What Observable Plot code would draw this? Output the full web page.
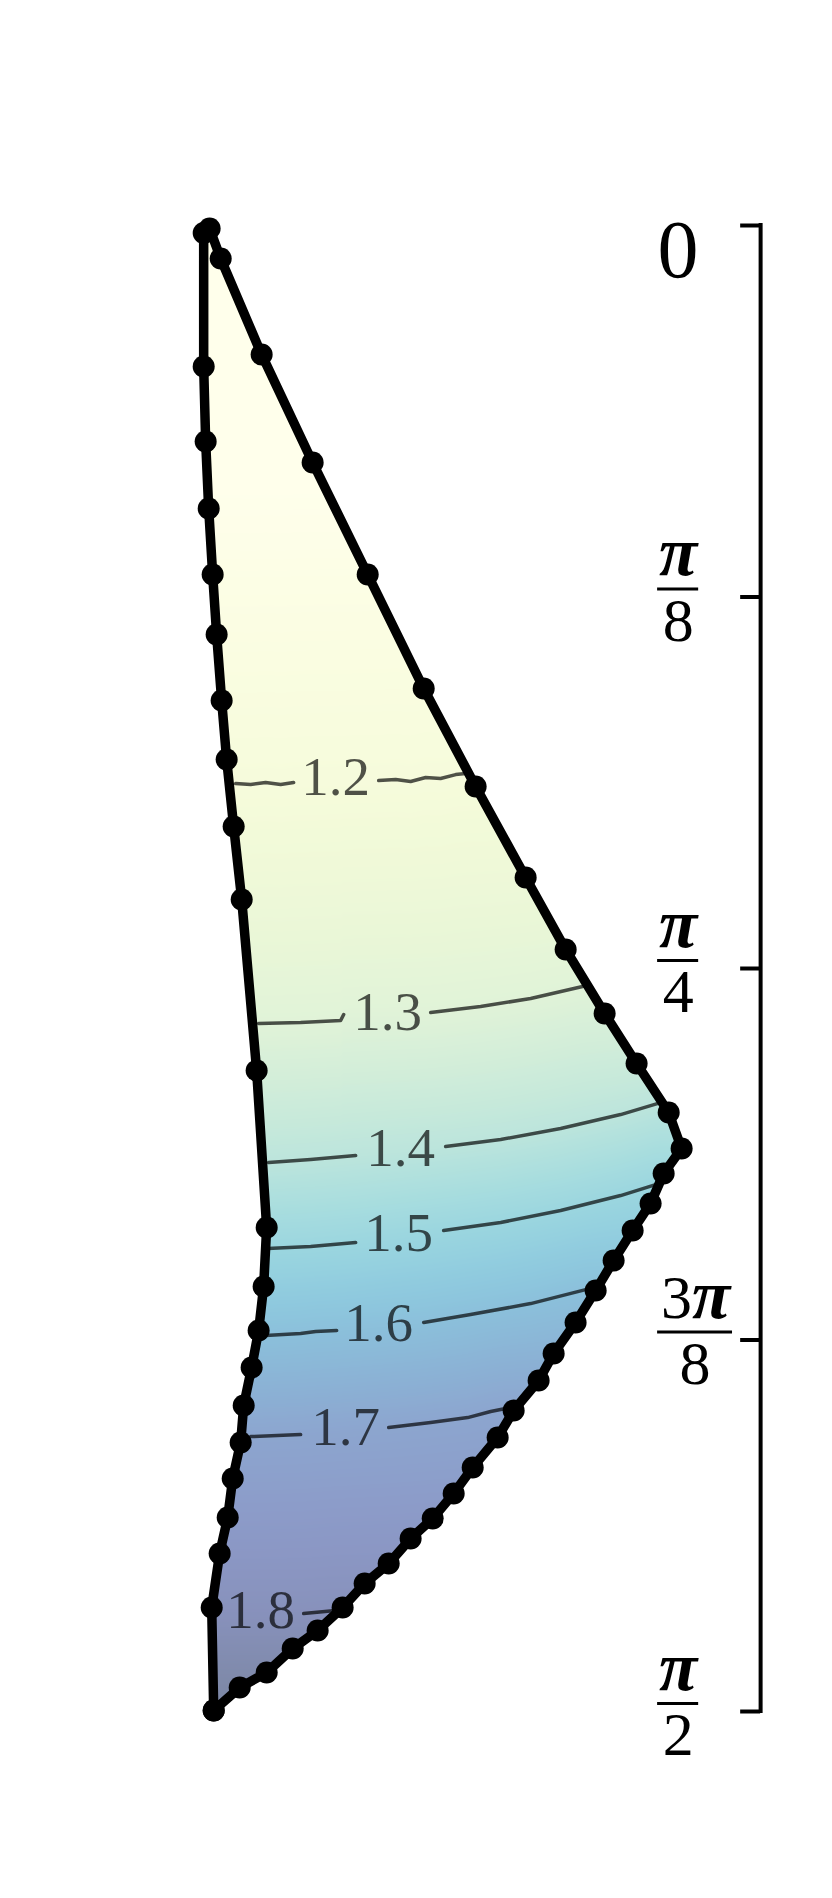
<!DOCTYPE html>
<html><head><meta charset="utf-8">
<script src="https://cdn.jsdelivr.net/npm/d3@7"></script>
<script src="https://cdn.jsdelivr.net/npm/@observablehq/plot@0.6"></script>
<style>html,body{margin:0;padding:0;background:#fff}svg{display:block}</style>
</head><body><div id="chart"></div>
<script>
// Boundary of the region (x: arbitrary angular units, y: angle in radians), top to bottom
const leftX = [0, 0, 0.0021, 0.0053, 0.0095, 0.0137, 0.0190, 0.0243, 0.0317, 0.0402, 0.0560, 0.0666, 0.0634, 0.0581, 0.0507, 0.0423, 0.0391, 0.0307, 0.0254, 0.0169, 0.0085, 0.0106];
const leftY = [0.0080, 0.1491, 0.2283, 0.2992, 0.3689, 0.4324, 0.5021, 0.5645, 0.6353, 0.7125, 0.8932, 1.0592, 1.1216, 1.1681, 1.2072, 1.2474, 1.2865, 1.3245, 1.3658, 1.4038, 1.4609, 1.5698];
const rightX = [0.0063, 0.0180, 0.0613, 0.1152, 0.1734, 0.2326, 0.2875, 0.3404, 0.3827, 0.4239, 0.4577, 0.4916, 0.5053, 0.4863, 0.4725, 0.4535, 0.4334, 0.4144, 0.3932, 0.3700, 0.3541, 0.3277, 0.3108, 0.2844, 0.2643, 0.2421, 0.2188, 0.1956, 0.1702, 0.1469, 0.1205, 0.0941, 0.0666, 0.0381, 0.0106];
const rightY = [0.0032, 0.0349, 0.1364, 0.2505, 0.3689, 0.4894, 0.5930, 0.6892, 0.7653, 0.8330, 0.8858, 0.9376, 0.9757, 1.0021, 1.0338, 1.0624, 1.0941, 1.1258, 1.1596, 1.1924, 1.2210, 1.2527, 1.2812, 1.3129, 1.3404, 1.3668, 1.3880, 1.4144, 1.4355, 1.4609, 1.4852, 1.5043, 1.5296, 1.5455, 1.5698];

// Contour lines (segments broken around their labels)
const contour12 = [
  [[0.0338,0.5899],[0.0497,0.5909],[0.0655,0.5888],[0.0814,0.5909],[0.0951,0.5888]],
  [[0.1850,0.5867],[0.2030,0.5856],[0.2188,0.5877],[0.2347,0.5835],[0.2505,0.5846],[0.2664,0.5804],[0.2770,0.5793]]
];
const contour13 = [
  [[0.0581,0.8436],[0.1025,0.8425],[0.1448,0.8404],[0.1480,0.8341]],
  [[0.2400,0.8319],[0.2928,0.8256],[0.3457,0.8171],[0.4006,0.8045]]
];
const contour14 = [
  [[0.0687,0.9905],[0.1131,0.9873],[0.1607,0.9831]],
  [[0.2558,0.9736],[0.3140,0.9662],[0.3774,0.9546],[0.4408,0.9398],[0.4831,0.9271]]
];
const contour15 = [
  [[0.0677,1.0814],[0.1131,1.0793],[0.1607,1.0751]],
  [[0.2537,1.0624],[0.3140,1.0539],[0.3774,1.0412],[0.4408,1.0254],[0.4778,1.0138]]
];
const contour16 = [
  [[0.0655,1.1734],[0.1025,1.1713],[0.1184,1.1692],[0.1406,1.1681]],
  [[0.2326,1.1596],[0.2822,1.1512],[0.3457,1.1396],[0.4038,1.1248]]
];
const contour17 = [
  [[0.0497,1.2802],[0.1025,1.2781]],
  [[0.1956,1.2706],[0.2400,1.2654],[0.2791,1.2601],[0.3034,1.2537],[0.3192,1.2506]]
];
const contour18 = [
  [[0.1057,1.4673],[0.1395,1.4641]]
];
const contourLevels = [1.2, 1.3, 1.4, 1.5, 1.6, 1.7, 1.8];
const contourLabels = ["1.2", "1.3", "1.4", "1.5", "1.6", "1.7", "1.8"];
const labelX = [0.1395, 0.1945, 0.2082, 0.2061, 0.1850, 0.1501, 0.0603];
const labelY = [0.5835, 0.8319, 0.9757, 1.0656, 1.1607, 1.2706, 1.4641];
const fieldTop = 1.05, fieldBottom = 1.88;

// Right-hand angle axis
const tickValues = [0, Math.PI / 8, Math.PI / 4, 3 * Math.PI / 8, Math.PI / 2];
const tickCoef = ["", "", "", "3", ""];
const tickDenom = ["", "8", "4", "8", "2"];
const zeroLabel = "0";
const axisX = 0.5888, tickInnerX = 0.5677, labelLeftX = 0.4799;

const contours = [contour12, contour13, contour14, contour15, contour16, contour17, contour18];
const polygon = leftX.map((x, i) => [x, leftY[i]]).concat(rightX.map((x, i) => [x, rightY[i]]).reverse());
const outline = polygon.concat([polygon[0]]).map(([x, y]) => ({x, y}));
const dots = polygon.map(([x, y]) => ({x, y}));
const contourRows = contours.flatMap((segs, i) => segs.flatMap((seg, j) => seg.map(([x, y]) => ({x, y, key: i + "-" + j}))));
const labelRows = contourLabels.map((t, i) => ({t, x: labelX[i], y: labelY[i]}));

const contourPts = contours.map(segs => segs.flat().slice().sort((a, b) => a[0] - b[0]));
const bis = d3.bisector(p => p[0]).right;
function contourYAt(pts, x) {
  if (x <= pts[0][0]) return pts[0][1];
  if (x >= pts[pts.length - 1][0]) return pts[pts.length - 1][1];
  const i = bis(pts, x);
  const a = pts[i - 1], b = pts[i];
  return a[1] + (b[1] - a[1]) * (x - a[0]) / (b[0] - a[0]);
}
const vs = [fieldTop, ...contourLevels, fieldBottom];
function field(x, y) {
  if (!d3.polygonContains(polygon, [x, y])) return NaN;
  const ys = [0, ...contourPts.map(p => contourYAt(p, x)), Math.PI / 2];
  for (let i = 1; i < ys.length; i++) {
    if (y <= ys[i]) {
      const t = (y - ys[i - 1]) / (ys[i] - ys[i - 1]);
      return vs[i - 1] + t * (vs[i] - vs[i - 1]);
    }
  }
  return fieldBottom;
}

const fracRows = tickValues.map((v, i) => {
  const half = tickCoef[i] ? 0.0396 : 0.0217;
  return {v, coef: tickCoef[i], den: tickDenom[i], x1: labelLeftX, x2: labelLeftX + 2 * half, cx: labelLeftX + half};
}).filter(d => d.den);

const serif = "'Liberation Serif', 'Times New Roman', Times, serif";

const chart = Plot.plot({
  width: 832, height: 1898,
  marginLeft: 14, marginRight: 14, marginTop: 225, marginBottom: 187,
  x: {domain: [-0.2, 0.65], axis: null},
  y: {domain: [0, Math.PI / 2], reverse: true, axis: null},
  color: {type: "linear", scheme: "YlGnBu", domain: [1.12, 1.86], clamp: true},
  style: {fontFamily: serif, background: "white"},
  marks: [
    Plot.raster({fill: field, x1: -0.01, x2: 0.52, y1: 0, y2: Math.PI / 2, pixelSize: 1, fillOpacity: 0.52}),
    Plot.line(contourRows, {x: "x", y: "y", z: "key", stroke: "black", strokeOpacity: 0.68, strokeWidth: 3.5}),
    Plot.text(labelRows, {x: "x", y: "y", text: "t", fontSize: 55, fontFamily: serif, fill: "black", fillOpacity: 0.68}),
    Plot.line(outline, {x: "x", y: "y", stroke: "black", strokeWidth: 9.5, strokeLinejoin: "round"}),
    Plot.dot(dots, {x: "x", y: "y", r: 11, fill: "black"}),
    Plot.ruleX([axisX], {y1: 0, y2: Math.PI / 2, stroke: "black", strokeWidth: 4, strokeLinecap: "square"}),
    Plot.ruleY(tickValues, {y: d => d, x1: tickInnerX, x2: axisX, stroke: "black", strokeWidth: 4}),
    Plot.text([zeroLabel], {x: labelLeftX, y: tickValues[0], text: d => d, textAnchor: "start", dy: 25, fontSize: 82, fontFamily: serif, fill: "black"}),
    Plot.ruleY(fracRows, {y: "v", x1: "x1", x2: "x2", dy: -8, stroke: "black", strokeWidth: 3}),
    Plot.text(fracRows.filter(d => !d.coef), {x: "cx", y: "v", text: () => "π", fontStyle: "italic", fontWeight: "bold", dy: -44, fontSize: 70, fontFamily: serif, fill: "black"}),
    Plot.text(fracRows.filter(d => d.coef), {x: "cx", y: "v", text: "coef", textAnchor: "end", dx: -3, dy: -42, fontSize: 62, fontFamily: serif, fill: "black"}),
    Plot.text(fracRows.filter(d => d.coef), {x: "cx", y: "v", text: () => "π", textAnchor: "start", dx: -3, fontStyle: "italic", fontWeight: "bold", dy: -44, fontSize: 70, fontFamily: serif, fill: "black"}),
    Plot.text(fracRows, {x: "cx", y: "v", text: "den", dy: 24, fontSize: 62, fontFamily: serif, fill: "black"})
  ]
});
document.getElementById("chart").append(chart);
</script>
</body></html>
